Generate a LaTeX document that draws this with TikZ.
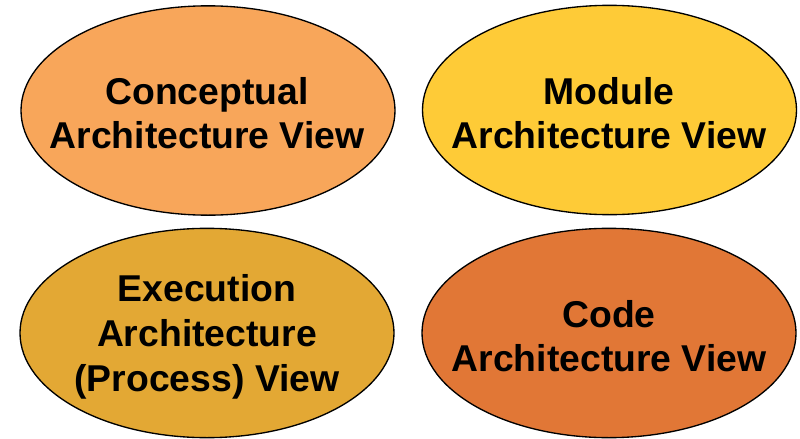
\documentclass[tikz,border=0pt]{standalone}
\usepackage{fontspec}
\setmainfont{Liberation Sans}
\usetikzlibrary{shapes.geometric}
\definecolor{cconcept}{HTML}{F8A65A}
\definecolor{cmodule}{HTML}{FECB37}
\definecolor{cexec}{HTML}{E3A834}
\definecolor{ccode}{HTML}{E17736}
\tikzset{
  view/.style={ellipse, draw=black, line width=1pt, minimum width=280.5pt, minimum height=157pt, inner sep=0pt},
  viewtext/.style={align=center, font=\fontsize{28}{33.5}\selectfont\bfseries, inner sep=0pt}
}
\begin{document}
\begin{tikzpicture}[x=0.75pt,y=-0.75pt]
\useasboundingbox (0,0) rectangle (800,439);
\node[view, fill=cconcept] (e1) at (208,110.5) {};
\node[view, fill=cmodule] (e2) at (609.5,110) {};
\node[view, fill=cexec] (e3) at (207,333) {};
\node[view, fill=ccode] (e4) at (609,333) {};
\node[viewtext] (t1) at (207,113) {Conceptual\\Architecture View};
\node[viewtext] (t2) at (609,113) {Module\\Architecture View};
\node[viewtext] (t3) at (207,337) {Execution\\Architecture\\(Process) View};
\node[viewtext] (t4) at (609,336) {Code\\Architecture View};
\end{tikzpicture}
\end{document}
